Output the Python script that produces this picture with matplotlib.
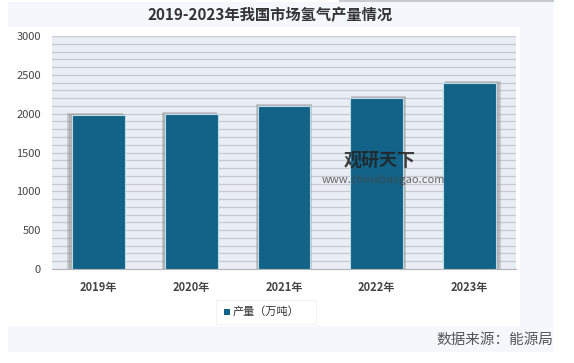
import matplotlib
matplotlib.use("Agg")
import matplotlib.pyplot as plt
from matplotlib.patches import Rectangle

plt.rcParams['font.family'] = ['Noto Sans CJK SC', 'DejaVu Sans']

years = ["2019年", "2020年", "2021年", "2022年", "2023年"]
output = [1980, 2000, 2100, 2200, 2400]
yticks = [0, 500, 1000, 1500, 2000, 2500, 3000]

W, H = 574, 363

def fx(x):
    return x / W

def fy(y):
    return 1 - y / H

fig = plt.figure(figsize=(W / 100, H / 100), dpi=100)
fig.patch.set_facecolor('white')

# outer light-blue card and inner white chart box
fig.patches.append(Rectangle((fx(8), fy(352)), fx(545), 350 / H,
                             transform=fig.transFigure, facecolor='#f4f8fc',
                             edgecolor='none', zorder=-2))
fig.patches.append(Rectangle((fx(8), fy(326)), fx(512), 299 / H,
                             transform=fig.transFigure, facecolor='white',
                             edgecolor='none', zorder=-1))
fig.add_artist(plt.Line2D([fx(340), fx(553)], [fy(0.5), fy(0.5)],
                          transform=fig.transFigure, color='#c8ccd0', lw=1.5))

ax = fig.add_axes([fx(52), fy(269), fx(516 - 52), (269 - 36) / H])
ax.set_facecolor('#e9eef4')

# thin horizontal lines every 100
for v in range(100, 3001, 100):
    ax.axhline(v, color='#c6cacf', lw=0.9, zorder=1)

x = list(range(len(years)))
for i, v in enumerate(output):
    # soft shadow behind each bar
    ax.bar(i + (i - 2) * 0.018, v + 25, width=0.6, color='#9a9a9a',
           alpha=0.45, zorder=2, linewidth=0)
    ax.bar(i + (i - 2) * 0.01, v + 12, width=0.585, color='#8a8a8a',
           alpha=0.35, zorder=2, linewidth=0)
    ax.bar(i, v, width=0.57, color='#136389', edgecolor='#bcdbe8',
           linewidth=0.8, zorder=3)

ax.set_xlim(-0.5, 4.5)
ax.set_ylim(0, 3000)
ax.set_yticks(yticks)
ax.set_yticklabels([str(t) for t in yticks], fontsize=8, color='#444444')
ax.set_xticks(x)
ax.set_xticklabels(years, fontsize=8, color='#444444', fontweight='bold')
ax.tick_params(length=0, pad=8)
ax.tick_params(axis='x', pad=9)
for s in ['top', 'right', 'left']:
    ax.spines[s].set_visible(False)
ax.spines['bottom'].set_color('#b0b4b8')

fig.text(fx(270), fy(15), "2019-2023年我国市场氢气产量情况", ha='center',
         va='center', fontsize=11, fontweight='bold', color='#333333')

# legend
fig.patches.append(Rectangle((fx(216), fy(324)), fx(100), 24 / H,
                             transform=fig.transFigure, facecolor='white',
                             edgecolor='#f0f0f0', lw=0.6, zorder=1))
fig.patches.append(Rectangle((fx(224), fy(315)), fx(6), 6 / H,
                             transform=fig.transFigure, facecolor='#136389',
                             edgecolor='none', zorder=2))
fig.text(fx(233), fy(312), "产量（万吨）", ha='left', va='center',
         fontsize=8, color='#333333')

# watermark
fig.text(fx(344), fy(160), "观研天下", ha='left', va='center', fontsize=13,
         fontweight='bold', color='#222222', alpha=0.85)
fig.text(fx(322), fy(180), "www.chinabaogao.com", ha='left', va='center',
         fontsize=8, color='#444444', alpha=0.8)

fig.text(fx(553), fy(340), "数据来源：能源局", ha='right', va='center',
         fontsize=10.5, color='#555555')

fig.savefig("out.png", dpi=100)
